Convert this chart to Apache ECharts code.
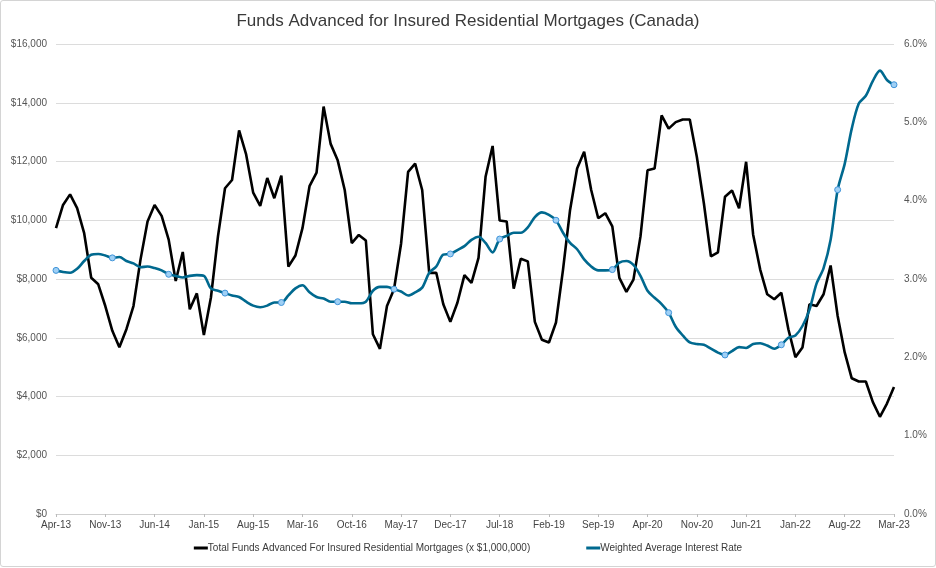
<!DOCTYPE html>
<html>
<head>
<meta charset="utf-8">
<script src="https://cdn.jsdelivr.net/npm/echarts@6/dist/echarts.min.js"></script>
<style>
html,body{margin:0;padding:0;background:#fff;}
#wrap{position:absolute;left:0;top:0;width:934px;height:565px;border:1px solid #d4d4d4;border-radius:3px;}
#chart{width:934px;height:565px;}
</style>
</head>
<body>
<div id="wrap"><div id="chart"></div></div>
<script>
// Monthly categories Apr-13 .. Mar-23
const monthNames = ['Jan','Feb','Mar','Apr','May','Jun','Jul','Aug','Sep','Oct','Nov','Dec'];
const startYear = 2013, startMonth = 3, monthCount = 120;
const categories = [];
for (let i = 0; i < monthCount; i++) {
  const m = (startMonth + i) % 12;
  const y = startYear + Math.floor((startMonth + i) / 12);
  categories.push(monthNames[m] + '-' + String(y).slice(2));
}

// Total Funds Advanced (x $1,000,000)
const fundsAdvanced = [
  9730,10520,10880,10410,9560,8040,7820,7080,6235,5680,6290,7080,
  8660,9960,10520,10150,9340,7930,8920,6970,7510,6090,7370,9450,
  11090,11370,13060,12240,10940,10490,11440,10750,11520,8420,8800,9730,
  11160,11620,13870,12600,12040,11030,9220,9500,9310,6120,5620,7080,
  7650,9200,11650,11930,11030,8210,8210,7140,6540,7190,8130,7870,
  8720,11480,12530,9990,9960,7670,8690,8600,6540,5930,5840,6520,
  8320,10350,11760,12330,11030,10070,10240,9790,8040,7560,7980,9450,
  11700,11760,13570,13120,13340,13430,13430,12160,10580,8770,8910,10800,
  11010,10410,11990,9510,8320,7480,7310,7530,6290,5340,5670,7140,
  7080,7480,8460,6740,5500,4620,4510,4510,3810,3310,3760,4320
];

// Weighted Average Interest Rate (%)
const interestRate = [
  3.11,3.09,3.08,3.13,3.23,3.31,3.32,3.30,3.27,3.28,3.23,3.20,
  3.15,3.16,3.14,3.11,3.06,3.04,3.02,3.04,3.05,3.04,2.88,2.85,
  2.82,2.79,2.77,2.71,2.66,2.64,2.66,2.70,2.70,2.79,2.88,2.92,
  2.83,2.77,2.75,2.71,2.71,2.71,2.69,2.69,2.71,2.85,2.90,2.90,
  2.87,2.84,2.79,2.83,2.89,3.08,3.16,3.31,3.32,3.37,3.42,3.50,
  3.54,3.46,3.34,3.51,3.55,3.59,3.59,3.66,3.79,3.85,3.82,3.75,
  3.59,3.46,3.38,3.25,3.16,3.11,3.11,3.12,3.21,3.23,3.18,3.04,
  2.85,2.76,2.68,2.57,2.39,2.28,2.19,2.17,2.16,2.11,2.06,2.03,
  2.08,2.13,2.12,2.17,2.18,2.15,2.11,2.16,2.25,2.28,2.40,2.61,
  2.94,3.14,3.50,4.14,4.47,4.92,5.24,5.34,5.53,5.66,5.54,5.48
];

// Indices of the points that carry a marker on the rate line
const rateMarkers = [0,8,16,24,32,40,48,56,63,71,79,87,95,103,111,119];

const seriesNames = [
  'Total Funds Advanced For Insured Residential Mortgages (x $1,000,000)',
  'Weighted Average Interest Rate'
];

const font = '"Liberation Sans", Arial, sans-serif';
const chart = echarts.init(document.getElementById('chart'));
chart.setOption({
  animation: false,
  textStyle: { fontFamily: font },
  title: {
    text: 'Funds Advanced for Insured Residential Mortgages (Canada)',
    left: 'center', top: 7,
    textStyle: { fontFamily: font, fontSize: 17, fontWeight: 'normal', color: '#3a3a3a' }
  },
  legend: {
    bottom: 8, left: 'center',
    icon: 'rect', itemWidth: 14, itemHeight: 3, itemGap: 56,
    textStyle: { fontFamily: font, fontSize: 10, color: '#3a3a3a', padding: [0,0,0,-5] },
    data: [
      { name: seriesNames[0], itemStyle: { color: '#000', borderWidth: 0 } },
      { name: seriesNames[1], itemStyle: { color: '#00698f', borderWidth: 0 } }
    ]
  },
  grid: { left: 55, right: 41, top: 43, bottom: 52 },
  xAxis: {
    type: 'category', data: categories, boundaryGap: false,
    axisLine: { show: true, lineStyle: { color: '#cfcfcf' } },
    axisTick: { show: true, interval: 6, length: 3, lineStyle: { color: '#bbb' } },
    axisLabel: { interval: 6, color: '#444', fontSize: 10, margin: 6 },
    splitLine: { show: false }
  },
  yAxis: [
    {
      type: 'value', min: 0, max: 16000, interval: 2000,
      axisLine: { show: false }, axisTick: { show: false },
      axisLabel: { color: '#555', fontSize: 10, margin: 9,
        formatter: v => '$' + v.toLocaleString('en-US') },
      splitLine: { lineStyle: { color: '#dcdcdc' } }
    },
    {
      type: 'value', min: 0, max: 6, interval: 1,
      axisLine: { show: false }, axisTick: { show: false },
      axisLabel: { color: '#555', fontSize: 10, margin: 10,
        formatter: v => v.toFixed(1) + '%' },
      splitLine: { show: false }
    }
  ],
  series: [
    {
      name: seriesNames[0], type: 'line', yAxisIndex: 0,
      data: fundsAdvanced, showSymbol: false, symbol: 'none',
      color: '#000',
      lineStyle: { color: '#000', width: 2.6 },
      itemStyle: { color: '#000' },
      z: 2
    },
    {
      name: seriesNames[1], type: 'line', yAxisIndex: 1,
      data: interestRate, smooth: 0.3,
      color: '#00698f',
      showAllSymbol: true,
      symbol: (val, p) => rateMarkers.includes(p.dataIndex) ? 'circle' : 'none',
      symbolSize: 6,
      lineStyle: { color: '#00698f', width: 2.6 },
      itemStyle: { color: '#9fd0f5', borderColor: '#3f93d8', borderWidth: 1 },
      z: 3
    }
  ]
});
</script>
</body>
</html>
